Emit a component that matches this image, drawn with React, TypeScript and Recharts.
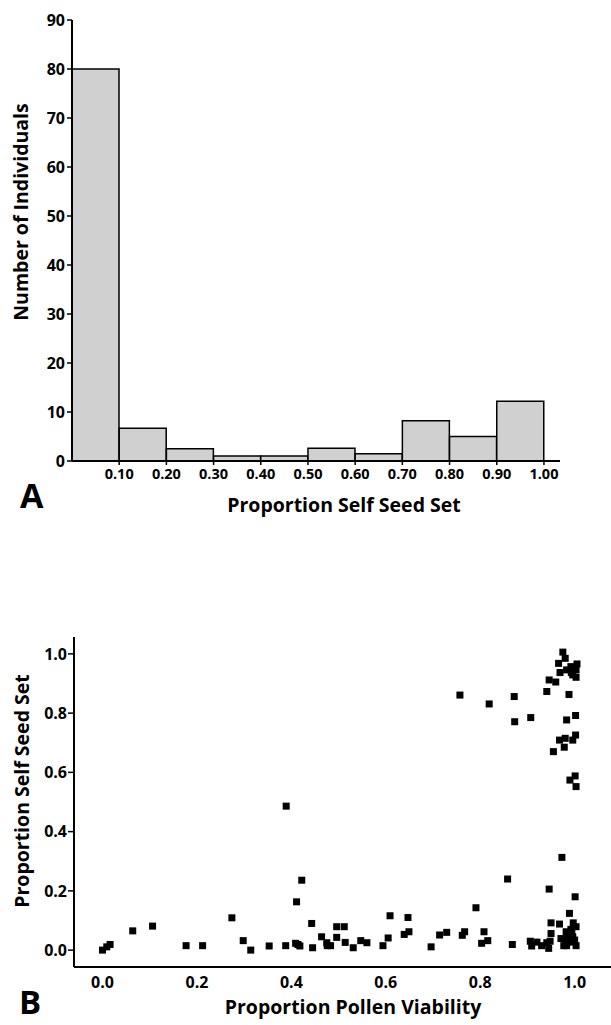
import React from 'react';
import { BarChart, Bar, ScatterChart, Scatter, XAxis, YAxis } from 'recharts';

// panel A: histogram of self seed set
const binMids = [0.05, 0.15, 0.25, 0.35, 0.45, 0.55, 0.65, 0.75, 0.85, 0.95];
const binCounts = [80, 6.7, 2.5, 1, 1, 2.6, 1.5, 8.2, 5, 12.2];
const histXTicks = [0.1, 0.2, 0.3, 0.4, 0.5, 0.6, 0.7, 0.8, 0.9, 1.0];
const histYTicks = [0, 10, 20, 30, 40, 50, 60, 70, 80, 90];

// panel B: pollen viability vs self seed set
const pollenViability = [
  0.0, 0.009, 0.016, 0.064, 0.106, 0.177, 0.212, 0.274, 0.298, 0.314,
  0.353, 0.388, 0.389, 0.422, 0.411, 0.409, 0.414, 0.418, 0.443, 0.445,
  0.464, 0.475, 0.476, 0.483, 0.496, 0.496, 0.512, 0.514, 0.531, 0.547,
  0.56, 0.594, 0.605, 0.609, 0.639, 0.649, 0.647, 0.696, 0.714, 0.729,
  0.762, 0.767, 0.791, 0.858, 0.808, 0.803, 0.816, 0.868, 0.906, 0.909,
  0.92, 0.93, 0.941, 0.945, 0.948, 0.946, 0.95, 0.95, 0.968, 0.973,
  0.971, 0.982, 0.989, 0.983, 0.997, 1.001, 1.003, 0.994, 1.0, 1.003,
  0.99, 0.996, 0.98, 0.977, 0.992, 0.985,
  0.757, 0.819, 0.872, 0.873, 0.907, 0.941, 0.946, 0.96, 0.969, 0.966,
  0.975, 0.98, 0.988, 0.983, 0.992, 1.005, 1.003, 0.996, 1.003, 0.993,
  1.002, 0.983, 1.002, 0.996, 0.98, 0.968, 0.978, 0.955, 1.001, 0.99, 1.003,
];
const selfSeedSet = [
  0.0, 0.011, 0.019, 0.065, 0.081, 0.015, 0.015, 0.109, 0.032, 0.0,
  0.014, 0.015, 0.486, 0.236, 0.163, 0.023, 0.019, 0.014, 0.09, 0.008,
  0.045, 0.025, 0.015, 0.015, 0.079, 0.043, 0.079, 0.026, 0.008, 0.032,
  0.025, 0.015, 0.041, 0.116, 0.053, 0.062, 0.11, 0.011, 0.051, 0.06,
  0.05, 0.062, 0.143, 0.24, 0.062, 0.023, 0.032, 0.019, 0.03, 0.014,
  0.027, 0.015, 0.025, 0.006, 0.03, 0.206, 0.092, 0.056, 0.088, 0.313,
  0.039, 0.062, 0.124, 0.015, 0.092, 0.18, 0.079, 0.056, 0.034, 0.015,
  0.027, 0.045, 0.027, 0.015, 0.07, 0.04,
  0.861, 0.831, 0.856, 0.771, 0.785, 0.873, 0.912, 0.905, 0.937, 0.968,
  1.006, 0.985, 0.863, 0.946, 0.957, 0.966, 0.946, 0.929, 0.921, 0.937,
  0.792, 0.777, 0.726, 0.709, 0.715, 0.709, 0.685, 0.67, 0.588, 0.574, 0.552,
];
const scatterTicks = [0, 0.2, 0.4, 0.6, 0.8, 1.0];

const FONT = '"Open Sans", sans-serif';

const histData = binMids.map((mid, i) => ({ mid, count: binCounts[i] }));
const scatterData = pollenViability.map((x, i) => ({ x, y: selfSeedSet[i] }));

const axisLine = { stroke: '#000', strokeWidth: 2 };
const tickLine = { stroke: '#000', strokeWidth: 1.5 };

const SquareDot = (props: any) => {
  const { cx, cy } = props;
  if (cx == null || cy == null) return null;
  return <rect x={cx - 3.5} y={cy - 3.5} width={7} height={7} fill="#000" />;
};

export default function App() {
  return (
    <div style={{ position: 'absolute', left: 0, top: 0, width: 611, height: 1025, background: '#fff', fontFamily: FONT }}>
      <div style={{ position: 'absolute', left: 0, top: 0 }}>
        <BarChart
          width={611}
          height={540}
          data={histData}
          margin={{ top: 20, right: 51, left: 12, bottom: 49 }}
          barCategoryGap={0}
          barGap={0}
        >
          <XAxis
            dataKey="mid"
            type="number"
            domain={[0, 1.034]}
            allowDataOverflow
            ticks={histXTicks}
            tickFormatter={(v: number) => v.toFixed(2)}
            height={30}
            tickSize={4}
            tickMargin={4}
            axisLine={axisLine}
            tickLine={tickLine}
            tick={{ fill: '#000', fontSize: 14.5, fontWeight: 700, fontFamily: FONT }}
          />
          <YAxis
            type="number"
            domain={[0, 90]}
            ticks={histYTicks}
            width={60}
            tickSize={5}
            tickMargin={2}
            axisLine={axisLine}
            tickLine={tickLine}
            tick={{ fill: '#000', fontSize: 16, fontWeight: 700, fontFamily: FONT }}
          />
          <Bar dataKey="count" fill="#d0d0d0" stroke="#000" strokeWidth={1.5} isAnimationActive={false} />
        </BarChart>
      </div>

      <div style={{ position: 'absolute', left: 0, top: 580 }}>
        <ScatterChart width={611} height={445} margin={{ top: 57, right: 0, left: 14, bottom: 28 }}>
          <XAxis
            dataKey="x"
            type="number"
            domain={[-0.0604, 1.077]}
            allowDataOverflow
            ticks={scatterTicks}
            tickFormatter={(v: number) => v.toFixed(1)}
            height={30}
            tickLine={false}
            tickSize={6}
            tickMargin={4}
            axisLine={axisLine}
            tick={{ fill: '#000', fontSize: 16, fontWeight: 700, fontFamily: FONT }}
          />
          <YAxis
            dataKey="y"
            type="number"
            domain={[-0.057, 1.057]}
            allowDataOverflow
            ticks={scatterTicks}
            tickFormatter={(v: number) => v.toFixed(1)}
            width={60}
            tickSize={6}
            tickMargin={1}
            axisLine={axisLine}
            tickLine={tickLine}
            tick={{ fill: '#000', fontSize: 16, fontWeight: 700, fontFamily: FONT }}
          />
          <Scatter data={scatterData} fill="#000" shape={SquareDot} isAnimationActive={false} />
        </ScatterChart>
      </div>

      <svg
        width={611}
        height={1025}
        style={{ position: 'absolute', left: 0, top: 0, pointerEvents: 'none' }}
        fontFamily={FONT}
        fontWeight={700}
        fill="#000"
      >
        <text x={28} y={212} fontSize={19.5} textAnchor="middle" transform="rotate(-90 28 212)">
          Number of Individuals
        </text>
        <text x={344} y={512} fontSize={19.5} textAnchor="middle">Proportion Self Seed Set</text>
        <text x={20} y={508} fontSize={34}>A</text>
        <text x={29} y={791} fontSize={19.5} textAnchor="middle" transform="rotate(-90 29 791)">
          Proportion Self Seed Set
        </text>
        <text x={353} y={1014} fontSize={19.5} textAnchor="middle">Proportion Pollen Viability</text>
        <text x={19} y={1014} fontSize={33}>B</text>
      </svg>
    </div>
  );
}
